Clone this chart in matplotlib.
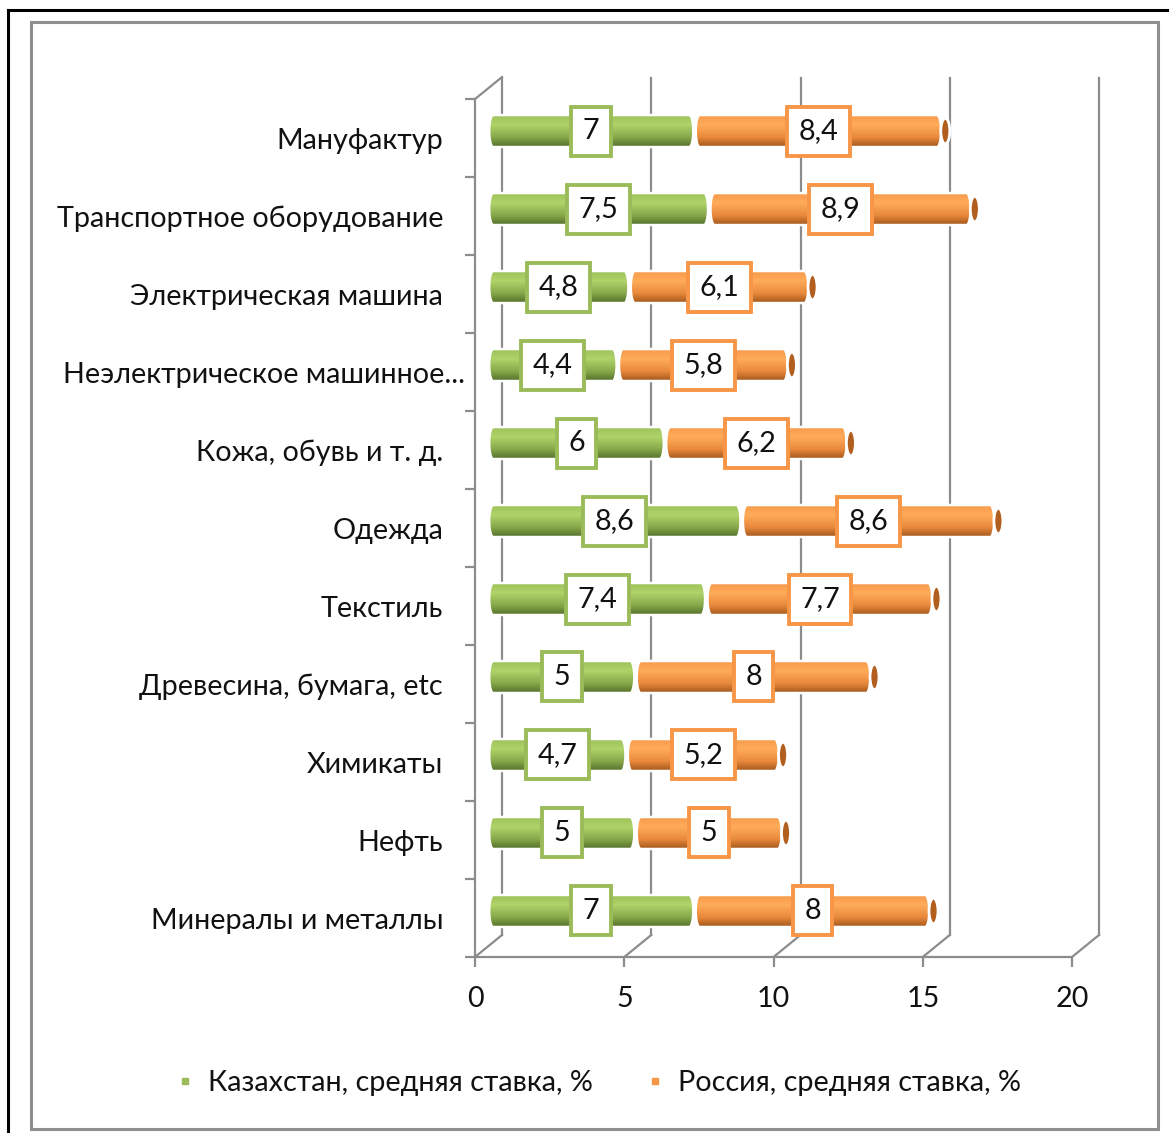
import numpy as np
import matplotlib
matplotlib.use('Agg')
import matplotlib.pyplot as plt
import matplotlib.transforms as mtransforms
from matplotlib.patches import Rectangle, Ellipse, PathPatch
from matplotlib.path import Path
from matplotlib.colors import LinearSegmentedColormap
from matplotlib.lines import Line2D

plt.rcParams['font.family'] = ['Lato', 'DejaVu Sans']

# data (bottom to top)
categories = ['Минералы и металлы', 'Нефть', 'Химикаты', 'Древесина, бумага, etc',
              'Текстиль', 'Одежда', 'Кожа, обувь и т. д.', 'Неэлектрическое машинное...',
              'Электрическая машина', 'Транспортное оборудование', 'Мануфактур']
kz = [7, 5, 4.7, 5, 7.4, 8.6, 6, 4.4, 4.8, 7.5, 7]
ru = [8, 5, 5.2, 8, 7.7, 8.6, 6.2, 5.8, 6.1, 8.9, 8.4]
series = ['Казахстан, средняя ставка, %', 'Россия, средняя ставка, %']
x_ticks = [0, 5, 10, 15, 20]

GREEN = '#9BBB59'
ORANGE = '#F79646'
GRID = '#8C8C8C'
FS = 20.7

W, H = 1169, 1133
fig = plt.figure(figsize=(W / 100, H / 100), dpi=100)


def px_axes(x0, y0, x1, y1):
    return fig.add_axes([x0 / W, 1 - y1 / H, (x1 - x0) / W, (y1 - y0) / H])


# frames around the chart
fig.add_artist(Line2D([8 / W, 8 / W], [0, 1 - 10 / H], color='black', lw=2.2))
fig.add_artist(Line2D([8 / W, 1], [1 - 10 / H, 1 - 10 / H], color='black', lw=2.2))
fig.add_artist(Rectangle((31 / W, 1 - 1129 / H), (1158 - 31) / W, (1129 - 22) / H,
                         transform=fig.transFigure, fill=False, ec='#8E8E8E', lw=2.2))

# 3d-ish walls
y0, y1 = -0.59, 10.68
ax = px_axes(475, 78, 1100, 957)
ax.set_xlim(0, 625 / 29.85)
ax.set_ylim(y0, y1)
dx, dy = 27 / 29.85, 22 / 78
for s in ['top', 'right']:
    ax.spines[s].set_visible(False)
for s in ['left', 'bottom']:
    ax.spines[s].set_color(GRID)
    ax.spines[s].set_linewidth(1.6)
ax.spines['left'].set_bounds(y0, 10.41)
ax.spines['bottom'].set_bounds(0, 20)
ax.set_xticks(x_ticks)
ax.set_xticklabels([str(v) for v in x_ticks])
ax.tick_params(axis='x', length=7, width=1.6, color=GRID, labelsize=FS, pad=14,
               labelcolor='#111111')
ax.set_yticks([i - 0.09 for i in range(len(categories))])
ax.set_yticklabels(categories)
ax.tick_params(axis='y', which='major', length=0, pad=23, labelsize=FS, labelcolor='#111111')
ax.set_yticks([i + y0 for i in range(len(categories) + 1)], minor=True)
ax.tick_params(axis='y', which='minor', length=7, width=1.6, color=GRID)
# the truncated label sits further right, as in the original
lab = ax.get_yticklabels()[7]
lab.set_transform(lab.get_transform() + mtransforms.ScaledTranslation(22 / 100, 0, fig.dpi_scale_trans))
for v in x_ticks:
    ax.plot([v, v + dx], [y0, y0 + dy], color=GRID, lw=1.6, clip_on=False)
    ax.plot([v + dx, v + dx], [y0 + dy, y1], color=GRID, lw=1.6, clip_on=False)
ax.plot([0, dx], [10.41, 10.41 + dy], color=GRID, lw=1.6, clip_on=False)

# cylinders
bax = px_axes(488, 78, 1078, 957)
bax.set_xlim(0, 20)
bax.set_ylim(y0, y1)
bax.axis('off')

ypos = np.arange(len(categories))
h = 0.41
b_kz = bax.barh(ypos, kz, height=h, color='none')
b_ru = bax.barh(ypos, ru, left=kz, height=h, color='none')

cm_g = LinearSegmentedColormap.from_list('g', [(0, '#55702A'), (0.3, '#86A84A'),
                                               (0.7, '#B0D46A'), (1, '#9CC25A')])
cm_o = LinearSegmentedColormap.from_list('o', [(0, '#A2561A'), (0.3, '#E8893C'),
                                               (0.7, '#FFAC5A'), (1, '#F79A4C')])
grad = np.linspace(0, 1, 64).reshape(-1, 1)
rx = 4 / 29.5
gap = 1.2 / 29.5


def pill(xa, xb, yc):
    t = np.linspace(-np.pi / 2, np.pi / 2, 40)
    right = np.column_stack([xb - rx + rx * np.cos(t), yc + h / 2 * np.sin(t)])
    t2 = t[::-1]
    left = np.column_stack([xa + rx - rx * np.cos(t2), yc + h / 2 * np.sin(t2)])
    verts = np.vstack([right, left, right[:1]])
    return Path(verts, closed=True)


for bars, cm, col in [(b_kz, cm_g, GREEN), (b_ru, cm_o, ORANGE)]:
    for p in bars.patches:
        xa, xb = p.get_x(), p.get_x() + p.get_width()
        yc = p.get_y() + h / 2
        path = pill(xa + gap, xb - gap, yc)
        pp = PathPatch(path, transform=bax.transData, fc='none', ec='white', lw=1.8, zorder=3)
        bax.add_patch(pp)
        im = bax.imshow(grad, extent=[xa, xb, yc - h / 2, yc + h / 2], origin='lower',
                        aspect='auto', cmap=cm, zorder=2, interpolation='bilinear')
        im.set_clip_path(pp)
        val = p.get_width()
        bax.text((xa + xb) / 2, yc, f'{val:g}'.replace('.', ','), ha='center', va='center',
                 fontsize=FS, color='#111111', zorder=6,
                 bbox=dict(boxstyle='square,pad=0.4', fc='white', ec=col, lw=2.8))
        if cm is cm_o:
            bax.add_patch(Ellipse((xb + 3 / 29.5, yc), 9 / 29.5, h * 0.8, fc='#B25E1F',
                                  ec='white', lw=2, zorder=4))

bax.set_xlim(0, 20)
bax.set_ylim(y0, y1)

handles = [Line2D([], [], marker='s', ls='none', color=c, markersize=5) for c in (GREEN, ORANGE)]
fig.legend(handles, series, loc='center', bbox_to_anchor=(599 / W, 1 - 1083 / H), ncol=2,
           frameon=False, fontsize=FS, handlelength=0.6, handletextpad=0.5, columnspacing=1.85,
           labelcolor='#111111')

fig.savefig('out.png', dpi=100)
